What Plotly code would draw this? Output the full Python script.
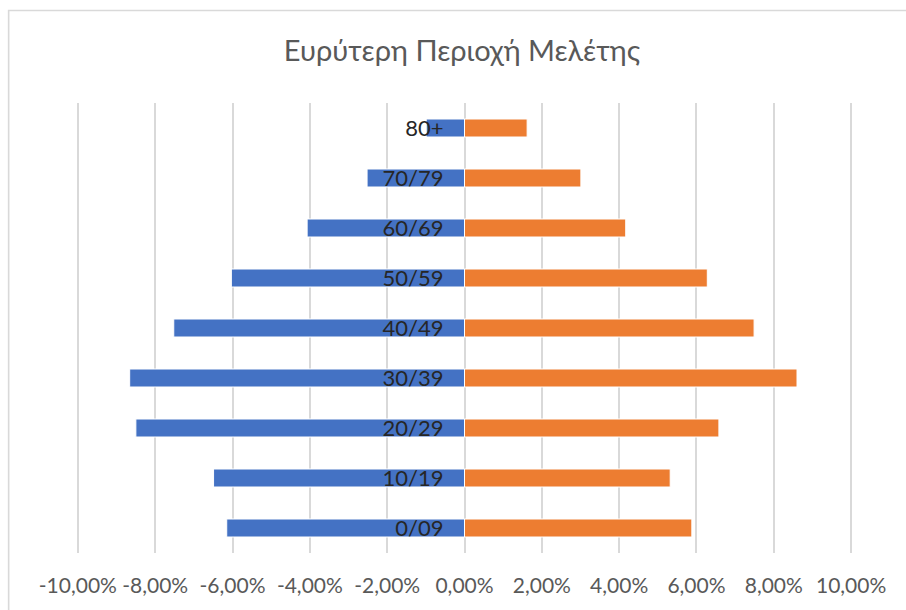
import plotly.graph_objects as go

# Age groups, bottom to top
age_groups = ["0/09", "10/19", "20/29", "30/39", "40/49", "50/59", "60/69", "70/79", "80+"]
# Share of population (%), left side stored as negative values
left_share = [-6.15, -6.49, -8.50, -8.66, -7.52, -6.03, -4.07, -2.52, -0.99]
right_share = [5.88, 5.32, 6.58, 8.60, 7.49, 6.28, 4.17, 3.01, 1.62]
x_ticks = [-10, -8, -6, -4, -2, 0, 2, 4, 6, 8, 10]
x_tick_text = [f"{v:.2f}%".replace(".", ",") for v in x_ticks]

title_text = "Ευρύτερη Περιοχή Μελέτης"

BLUE = "#4472C4"
ORANGE = "#ED7D31"
GRID = "#D9D9D9"
TEXT_GRAY = "#595959"
FONT = "Lato"

fig = go.Figure()
fig.add_trace(go.Bar(
    y=age_groups, x=[v / 100 for v in left_share], orientation="h",
    marker=dict(color=BLUE, line=dict(color="white", width=1)),
    showlegend=False, hoverinfo="skip",
))
fig.add_trace(go.Bar(
    y=age_groups, x=[v / 100 for v in right_share], orientation="h",
    marker=dict(color=ORANGE, line=dict(color="white", width=1)),
    showlegend=False, hoverinfo="skip",
))

# Plot area in pixels; range padded a little so the ±10% gridlines are drawn
W, H = 906, 610
EPS = 0.001
unit = 773 / 0.2                      # pixels per unit of share
L, R, T, B = 77.7 - EPS * unit, 55.3 - EPS * unit, 103, 57
pw, ph = W - L - R, H - T - B

fig.update_layout(
    width=W, height=H,
    margin=dict(l=L, r=R, t=T, b=B, pad=0, autoexpand=False),
    paper_bgcolor="white", plot_bgcolor="white",
    barmode="overlay", bargap=0.64,
    font=dict(family=FONT, color=TEXT_GRAY),
    title=dict(text=title_text, x=462 / W, xanchor="center",
               y=1 - 51 / H, yanchor="middle",
               font=dict(family=FONT, size=29, color=TEXT_GRAY)),
    xaxis=dict(
        range=[-0.1 - EPS, 0.1 + EPS],
        tickvals=[v / 100 for v in x_ticks], ticktext=x_tick_text,
        tickangle=0, automargin=False,
        showgrid=True, gridcolor=GRID, gridwidth=1.6,
        zeroline=False, showline=False, ticks="",
        ticklabelstandoff=18,
        tickfont=dict(family=FONT, size=21, color=TEXT_GRAY),
        fixedrange=True,
    ),
    yaxis=dict(
        anchor="free", position=0.5, automargin=False,
        categoryorder="array", categoryarray=age_groups,
        showgrid=False, zeroline=False, showline=False, ticks="",
        ticklabelstandoff=21,
        tickfont=dict(family=FONT, size=22, color="#262626"),
        layer="above traces",
        fixedrange=True,
    ),
    shapes=[dict(
        type="rect", xref="paper", yref="paper",
        x0=(8.5 - L) / pw, x1=(W + 20 - L) / pw,
        y0=-(H + 20 - (T + ph)) / ph, y1=(T + ph - 10.5) / ph,
        line=dict(color=GRID, width=1.6), fillcolor="rgba(0,0,0,0)",
        layer="below",
    )],
)

fig.write_html("out.html")
